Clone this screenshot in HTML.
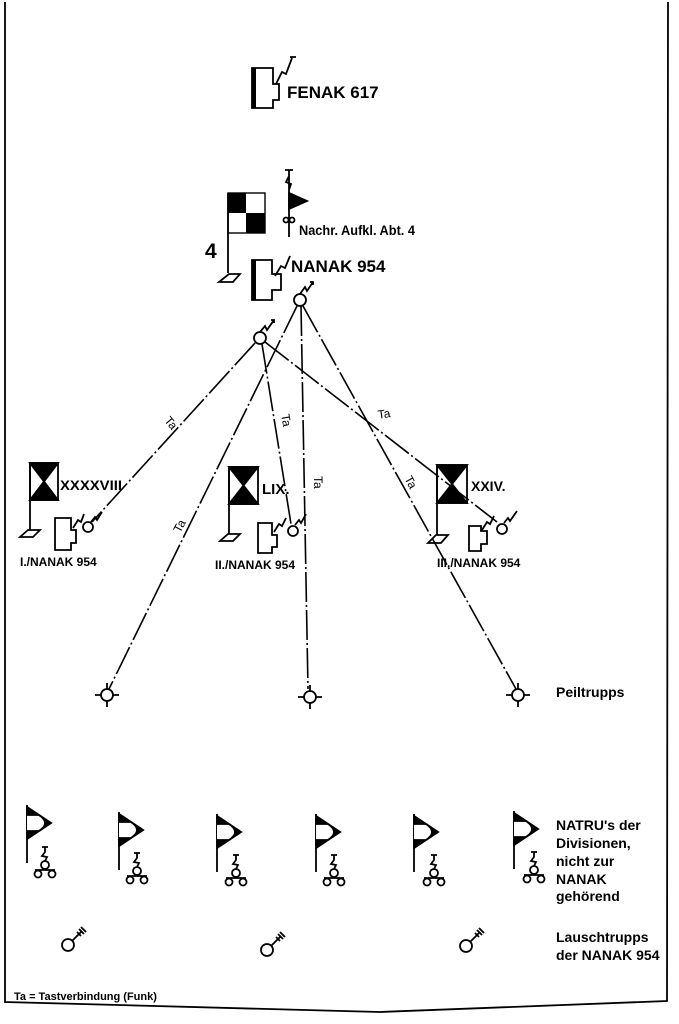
<!DOCTYPE html>
<html><head><meta charset="utf-8"><style>
html,body{margin:0;padding:0;background:#fff;}
svg{display:block;}
text{font-family:"Liberation Sans",sans-serif;fill:#000;}
.b{font-weight:bold;}
</style></head><body>
<svg width="679" height="1024" viewBox="0 0 679 1024" xmlns="http://www.w3.org/2000/svg">
<g fill="none" stroke="#000" stroke-width="1.8">
<path d="M5 2 L5 1002 Q180 1006 380 1012 L667 1001 L668 2" stroke-width="1.8"/>

<path d="M252 68 H273 V84 H279 V100 H273 V108 H252 Z"/>
<rect x="252" y="68" width="4" height="40" fill="#000" stroke="none"/>
<path d="M276 84 L282 72 L286 74 L292 58 M290 57 H296"/>

<rect x="228" y="193" width="37" height="40" stroke-width="1.4"/>
<rect x="228" y="193" width="18" height="20" fill="#000" stroke="none"/>
<rect x="246" y="213" width="19" height="20" fill="#000" stroke="none"/>
<path d="M228 193 V273"/>
<path d="M219 282 L229 274 L240 274 L233 282 Z"/>

<path d="M289 170 V237 M285 170 H293 M289 176 L286 182 L291 184 L289 190"/>
<path d="M289 193 L307 201 L289 209 Z" fill="#000"/>
<circle cx="286" cy="220" r="2.5"/><circle cx="292" cy="220" r="2.5"/>

<path d="M252 260 H272 V274 H281 V290 H272 V300 H252 Z"/>
<rect x="252" y="260" width="4" height="40" fill="#000" stroke="none"/>
<path d="M275 276 L281 266 L285 268 L290 256"/>

<circle cx="300" cy="300" r="6" fill="#fff"/>
<path d="M300 294 L305 287 L307 291 L313 282 M310 282 L313 282 L313 285"/>
<circle cx="260" cy="338" r="6" fill="#fff"/>
<path d="M260 332 L265 326 L267 330 L274 320 M271 320 L274 320 L274 323"/>
</g>

<g fill="none" stroke="#000" stroke-width="1.6" stroke-dasharray="30 3 2 3">
<path d="M297 306 L109 689"/>
<path d="M301 306 L308 689"/>
<path d="M303 306 L516 689"/>
<path d="M255 343 L92 522"/>
<path d="M262 344 L291 524"/>
<path d="M265 342 L497 522"/>
</g>
<g font-size="12">
<text x="165" y="426" transform="rotate(50 170 422)">Ta</text>
<text x="275" y="418" transform="rotate(80 280 420)">Ta</text>
<text x="378" y="418" transform="rotate(-8 384 416)">Ta</text>
<text x="178" y="530" transform="rotate(-62 182 530)">Ta</text>
<text x="308" y="478" transform="rotate(90 312 480)">Ta</text>
<text x="402" y="482" transform="rotate(62 406 482)">Ta</text>
</g>

<g fill="none" stroke="#000" stroke-width="1.8">
<rect x="30" y="463" width="28" height="37"/>
<path d="M30 463 H58 L44 481.5 Z M30 500 H58 L44 481.5 Z" fill="#000"/>
<path d="M30 463 V530"/><path d="M20 537 L28 530 L40 530 L33 537 Z"/>
<path d="M55 518 H71 V530 H76 V543 H71 V550 H55 Z"/>
<path d="M73 528 L78 520 L81 522 L84 514"/>
<circle cx="88" cy="527" r="5" fill="#fff"/>
<path d="M91 522 L95 517 L97 520 L102 512"/>

<rect x="229" y="467" width="29" height="37"/>
<path d="M229 467 H258 L243.5 485.5 Z M229 504 H258 L243.5 485.5 Z" fill="#000"/>
<path d="M229 467 V534"/><path d="M220 541 L228 534 L240 534 L233 541 Z"/>
<path d="M258 523 H272 V535 H277 V547 H272 V553 H258 Z"/>
<path d="M274 532 L279 524 L282 526 L286 518"/>
<circle cx="293" cy="531" r="5" fill="#fff"/>
<path d="M295 525 L299 520 L301 523 L306 514"/>

<rect x="437" y="465" width="30" height="38"/>
<path d="M437 465 H467 L452 484 Z M437 503 H467 L452 484 Z" fill="#000"/>
<path d="M437 465 V535"/><path d="M428 543 L436 535 L448 535 L441 543 Z"/>
<path d="M469 526 H481 V531 H487 V544 H481 V551 H469 Z"/>
<path d="M482 530 L487 522 L490 524 L494 516"/>
<circle cx="502" cy="529" r="5" fill="#fff"/>
<path d="M504 523 L508 518 L510 521 L517 511"/>

<circle cx="107" cy="695" r="6" fill="#fff"/><path d="M95 695 H101 M113 695 H119 M107 683 V689 M107 701 V707"/>
<circle cx="310" cy="697" r="6" fill="#fff"/><path d="M298 697 H304 M316 697 H322 M310 685 V691 M310 703 V709"/>
<circle cx="518" cy="695" r="6" fill="#fff"/><path d="M506 695 H512 M524 695 H530 M518 683 V689 M518 701 V707"/>
</g>

<defs>
<g id="nf" fill="none" stroke="#000" stroke-width="1.8">
<path d="M0 0 V58"/>
<path d="M0 2 L24 18 L0 34 Z" fill="#000"/>
<path d="M0 10 H12 Q24 18 12 26 H0" fill="#fff"/>
<path d="M0 2 L24 18 L0 34"/>
</g>
<g id="ns" fill="none" stroke="#000" stroke-width="1.8">
<path d="M-3 0 H3 M0 0 V5 L-3 9 L2 10 L0 14"/>
<circle cx="0" cy="18" r="4"/>
<path d="M-10 23 H10"/>
<circle cx="-7" cy="27" r="3.5"/><circle cx="7" cy="27" r="3.5"/>
</g>
<g id="key" fill="none" stroke="#000" stroke-width="1.8">
<circle cx="0" cy="0" r="6"/>
<path d="M4 -4 L14 -14 M9 -13 L13 -9 M11 -16 L16 -11 M13 -18 L18 -13"/>
</g>
</defs>
<use href="#nf" x="27" y="805"/><use href="#ns" x="45" y="847"/>
<use href="#nf" x="119" y="812"/><use href="#ns" x="137" y="853"/>
<use href="#nf" x="217" y="814"/><use href="#ns" x="236" y="855"/>
<use href="#nf" x="316" y="814"/><use href="#ns" x="334" y="855"/>
<use href="#nf" x="414" y="814"/><use href="#ns" x="434" y="855"/>
<use href="#nf" x="514" y="811"/><use href="#ns" x="534" y="852"/>

<use href="#key" x="68" y="945"/>
<use href="#key" x="267" y="950"/>
<use href="#key" x="466" y="946"/>

<text x="287" y="98" font-size="17" class="b">FENAK 617</text>
<text x="205" y="258" font-size="21" class="b">4</text>
<text x="299" y="235" font-size="14" class="b" textLength="116" lengthAdjust="spacingAndGlyphs">Nachr. Aufkl. Abt. 4</text>
<text x="291" y="272" font-size="17" class="b">NANAK 954</text>
<text x="60" y="490" font-size="14" class="b" textLength="62" lengthAdjust="spacingAndGlyphs">XXXXVIII</text>
<text x="262" y="494" font-size="15" class="b">LIX.</text>
<text x="471" y="491" font-size="14" class="b">XXIV.</text>
<text x="20" y="566" font-size="12" class="b">I./NANAK 954</text>
<text x="215" y="569" font-size="12" class="b">II./NANAK 954</text>
<text x="437" y="567" font-size="12" class="b">III./NANAK 954</text>
<text x="556" y="697" font-size="14" class="b">Peiltrupps</text>
<text font-size="14" class="b"><tspan x="556" y="830">NATRU's der</tspan><tspan x="556" y="848">Divisionen,</tspan><tspan x="556" y="866">nicht zur</tspan><tspan x="556" y="884">NANAK</tspan><tspan x="556" y="901">gehörend</tspan></text>
<text font-size="14" class="b"><tspan x="556" y="942">Lauschtrupps</tspan><tspan x="556" y="960">der NANAK 954</tspan></text>
<text x="14" y="1000" font-size="11" class="b">Ta = Tastverbindung (Funk)</text>
</svg>
</body></html>
